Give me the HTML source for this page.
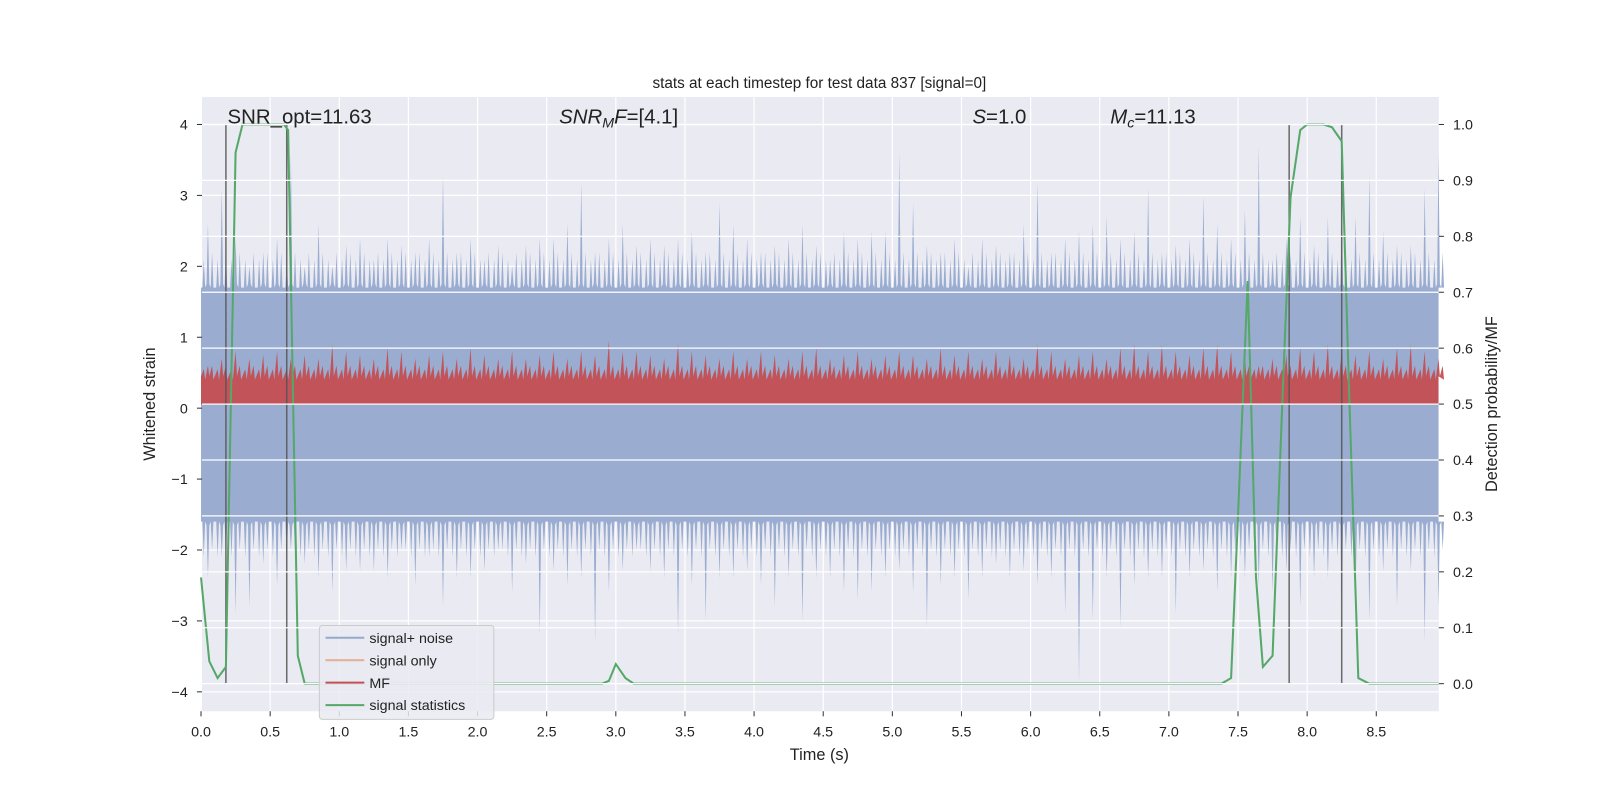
<!DOCTYPE html>
<html><head><meta charset="utf-8"><style>
html,body{margin:0;padding:0;background:#fff;overflow:hidden;width:100vw;height:100vh;}
svg{display:block;position:absolute;left:0;top:0;width:100vw;height:100vh;font-family:"Liberation Sans","DejaVu Sans",sans-serif;}
</style></head><body>
<svg id="chart" viewBox="0 0 1568 784" preserveAspectRatio="none" xmlns="http://www.w3.org/2000/svg">
<rect x="0" y="0" width="1568" height="784" fill="#fff"/>
<rect x="198" y="95" width="1212" height="602" fill="#eaeaf2"/>
<g id="grid"></g>
<g id="marks"></g>
<g id="grid2"></g>
<g id="axes"></g>
<text x="803" y="86" font-size="15" text-anchor="middle" fill="#222">stats at each timestep for test data 837 [signal=0]</text>
<text x="803" y="745" font-size="16" text-anchor="middle" fill="#222">Time (s)</text>
<text transform="translate(152,396) rotate(-90)" font-size="16" text-anchor="middle" fill="#222">Whitened strain</text>
<text transform="translate(1467,396) rotate(-90)" font-size="16" text-anchor="middle" fill="#222">Detection probability/MF</text>
<g font-size="20" fill="#222">
<text x="223" y="121">SNR_opt=11.63</text>
<text x="548" y="121"><tspan font-style="italic">SNR</tspan><tspan font-style="italic" font-size="14" dy="4">M</tspan><tspan font-style="italic" dy="-4">F</tspan>=[4.1]</text>
<text x="953" y="121"><tspan font-style="italic">S</tspan>=1.0</text>
<text x="1088" y="121"><tspan font-style="italic">M</tspan><tspan font-style="italic" font-size="14" dy="4">c</tspan><tspan dy="-4">=11.13</tspan></text>
</g>
<g>
<rect x="313" y="613" width="171" height="92" rx="3" fill="#eaeaf2" fill-opacity="0.85" stroke="#ccc"/>
<line x1="319" y1="625" x2="357" y2="625" stroke="#4c72b0" stroke-opacity="0.55" stroke-width="2"/>
<text x="362" y="630" font-size="14" fill="#222">signal+ noise</text>
<line x1="319" y1="647" x2="357" y2="647" stroke="#dd8452" stroke-opacity="0.55" stroke-width="2"/>
<text x="362" y="652" font-size="14" fill="#222">signal only</text>
<line x1="319" y1="669" x2="357" y2="669" stroke="#c44e52" stroke-width="2"/>
<text x="362" y="674" font-size="14" fill="#222">MF</text>
<line x1="319" y1="691" x2="357" y2="691" stroke="#55a868" stroke-width="2"/>
<text x="362" y="696" font-size="14" fill="#222">signal statistics</text>
</g>
</svg>
<script>
const xTicks=[0,0.5,1,1.5,2,2.5,3,3.5,4,4.5,5,5.5,6,6.5,7,7.5,8,8.5];
const yTicks=[-4,-3,-2,-1,0,1,2,3,4];
const y2Ticks=[0,0.1,0.2,0.3,0.4,0.5,0.6,0.7,0.8,0.9,1.0];
const noiseUpper=[2.6,3.1,2.4,2.0,2.2,2.4,3.6,2.0,2.6,2.0,2.3,2.4,2.1,2.4,2.3,2.2,2.4,3.3,2.2,2.4,2.1,2.3,2.0,2.3,2.4,2.4,2.6,3.2,2.2,2.4,2.6,2.3,2.4,2.3,2.4,2.5,2.2,2.9,2.6,2.4,2.2,2.3,2.4,2.6,2.3,2.1,2.5,2.4,2.5,2.5,3.6,2.9,2.3,2.2,2.4,2.0,2.4,2.3,2.2,2.6,3.2,2.2,2.4,2.5,2.6,2.7,2.4,2.5,3.1,2.2,2.3,2.4,3.0,2.6,2.4,2.8,3.7,2.1,2.4,2.7,2.3,2.7,2.6,2.7,3.3,2.5,2.3,2.3,3.1,3.6];
const noiseLower=[-2.4,-2.1,-2.9,-2.8,-2.2,-2.5,-2.0,-2.2,-2.4,-2.6,-2.3,-2.3,-2.3,-2.4,-2.0,-2.5,-2.1,-2.8,-2.4,-2.4,-2.3,-2.0,-2.6,-2.2,-3.2,-2.3,-2.5,-2.4,-3.3,-2.6,-2.3,-2.0,-2.3,-2.4,-3.2,-2.5,-3.0,-2.4,-2.4,-2.3,-2.5,-2.8,-2.4,-3.0,-2.4,-2.4,-2.6,-2.7,-2.6,-2.4,-2.3,-2.6,-3.1,-2.5,-2.4,-2.7,-2.4,-2.2,-2.4,-2.3,-2.5,-2.4,-2.9,-3.9,-3.0,-2.4,-3.1,-2.5,-2.4,-2.4,-2.9,-2.4,-2.3,-2.6,-2.4,-2.4,-2.5,-2.6,-2.3,-2.8,-2.4,-2.4,-2.8,-2.6,-3.0,-2.3,-2.8,-2.3,-3.3,-2.8];
const mfPeaks=[0.6,0.7,0.8,0.7,0.75,0.8,0.7,0.75,0.7,0.9,0.8,0.75,0.7,0.85,0.8,0.7,0.75,0.8,0.7,0.85,0.75,0.7,0.8,0.7,0.75,0.8,0.7,0.8,0.75,0.95,0.8,0.8,0.75,0.7,0.9,0.8,0.75,0.7,0.8,0.7,0.8,0.75,0.7,0.8,0.85,0.7,0.75,0.8,0.7,0.75,0.8,0.75,0.7,0.85,0.75,0.8,0.7,0.8,0.75,0.7,0.9,0.8,0.7,0.75,0.8,0.7,0.85,0.9,0.8,0.9,0.8,0.75,0.85,0.9,0.8,0.7,0.6,0.7,0.75,0.85,0.8,0.9,0.8,0.75,0.8,0.7,0.85,0.9,0.8,0.7];
const statTimes=[0,0.06,0.12,0.18,0.25,0.3,0.5,0.6,0.63,0.7,0.75,2.9,2.95,3.0,3.07,3.13,7.38,7.45,7.5,7.57,7.63,7.68,7.75,7.82,7.88,7.95,8.0,8.12,8.18,8.25,8.3,8.37,8.45,8.95];
const statValues=[0.19,0.04,0.01,0.03,0.95,1.0,1.0,1.0,0.99,0.05,0.0,0.0,0.005,0.035,0.01,0.0,0.0,0.01,0.3,0.72,0.19,0.03,0.05,0.5,0.87,0.99,1.0,1.0,0.995,0.97,0.55,0.01,0.0,0.0];
const eventTimes=[0.18,0.62,7.87,8.25];

const NS='http://www.w3.org/2000/svg';
const X0=198,X1=1410,Y0=95,Y1=697;
const xS=t=>197+t*135.5;
const yS=v=>400-v*69.5;
const y2S=p=>670-p*548;
function mk(tag,attrs,parent){const e=document.createElementNS(NS,tag);for(const k in attrs)e.setAttribute(k,attrs[k]);parent.appendChild(e);return e;}
const grid=document.getElementById('grid'),grid2=document.getElementById('grid2'),marks=document.getElementById('marks'),axes=document.getElementById('axes');

xTicks.forEach(t=>{
  const l=mk('line',{x1:xS(t),x2:xS(t),y1:Y0,y2:Y1,stroke:'#fff','stroke-width':1.2},grid);
  
  
  const tx=mk('text',{x:xS(t),y:722,'font-size':14,'text-anchor':'middle',fill:'#222'},axes);
  tx.textContent=t.toFixed(1);
  
  
  mk('line',{x1:xS(t),x2:xS(t),y1:Y1,y2:Y1+5,stroke:'#333'},axes);
});
yTicks.forEach(v=>{
  const l=mk('line',{x1:X0,x2:X1,y1:yS(v),y2:yS(v),stroke:'#fff','stroke-width':1.2},grid);
  
  
  const tx=mk('text',{x:184,y:yS(v)+5,'font-size':14,'text-anchor':'end',fill:'#222'},axes);
  tx.textContent=v<0?'\u2212'+Math.abs(v):String(v);
  
  
  mk('line',{x1:X0-5,x2:X0,y1:yS(v),y2:yS(v),stroke:'#333'},axes);
});
y2Ticks.forEach(p=>{
  const l=mk('line',{x1:X0,x2:X1,y1:y2S(p),y2:y2S(p),stroke:'#fff','stroke-width':1.2},grid2);
  
  
  const tx=mk('text',{x:1424,y:y2S(p)+5,'font-size':14,fill:'#222'},axes);
  tx.textContent=p.toFixed(1);
  
  
  mk('line',{x1:X1,x2:X1+5,y1:y2S(p),y2:y2S(p),stroke:'#333'},axes);
});

// signal + noise envelope
let up='',lo='';
noiseUpper.forEach((v,i)=>{const t=i*0.1;
  up+=`L${xS(t+0.01)},${yS(1.7)} L${xS(t+0.02)},${yS(2.1)} L${xS(t+0.03)},${yS(1.7)} L${xS(t+0.04)},${yS(1.75)} L${xS(t+0.05)},${yS(v)} L${xS(t+0.06)},${yS(1.75)} L${xS(t+0.07)},${yS(1.7)} L${xS(t+0.08)},${yS(2.2)} L${xS(t+0.09)},${yS(1.7)} `;});
for(let i=noiseLower.length-1;i>=0;i--){const t=i*0.1,v=noiseLower[i];
  lo+=`L${xS(t+0.09)},${yS(-1.6)} L${xS(t+0.08)},${yS(-2.0)} L${xS(t+0.07)},${yS(-1.6)} L${xS(t+0.06)},${yS(-1.65)} L${xS(t+0.05)},${yS(v)} L${xS(t+0.04)},${yS(-1.65)} L${xS(t+0.03)},${yS(-1.6)} L${xS(t+0.02)},${yS(-2.1)} L${xS(t+0.01)},${yS(-1.6)} `;}
const np=mk('path',{d:`M${xS(0)},${yS(1.7)} ${up}L${xS(8.95)},${yS(1.7)} L${xS(8.95)},${yS(-1.6)} ${lo}L${xS(0)},${yS(-1.6)} Z`,fill:'#9aadd1'},marks);



// MF on the left (strain) axis
let mf=`M${xS(0)},${yS(0.45)} `;
mfPeaks.forEach((v,i)=>{const t=i*0.1;
  mf+=`L${xS(t+0.02)},${yS(0.55)} L${xS(t+0.03)},${yS(0.4)} L${xS(t+0.05)},${yS(v)} L${xS(t+0.06)},${yS(0.45)} L${xS(t+0.08)},${yS(0.6)} L${xS(t+0.09)},${yS(0.4)} `;});
mf+=`L${xS(8.95)},${yS(0.45)} L${xS(8.95)},${yS(0.05)} L${xS(0)},${yS(0.05)} Z`;
const mfp=mk('path',{d:mf,fill:'#c44e52','fill-opacity':0.95},marks);



eventTimes.forEach(t=>{
  const l=mk('line',{x1:xS(t),x2:xS(t),y1:yS(4),y2:y2S(0),stroke:'#555','stroke-width':1.5,'stroke-opacity':0.85},marks);
  
  
});

const sp=mk('polyline',{points:statTimes.map((t,i)=>xS(t)+','+y2S(statValues[i])).join(' '),fill:'none',stroke:'#55a868','stroke-width':2},marks);


</script>
</body></html>
